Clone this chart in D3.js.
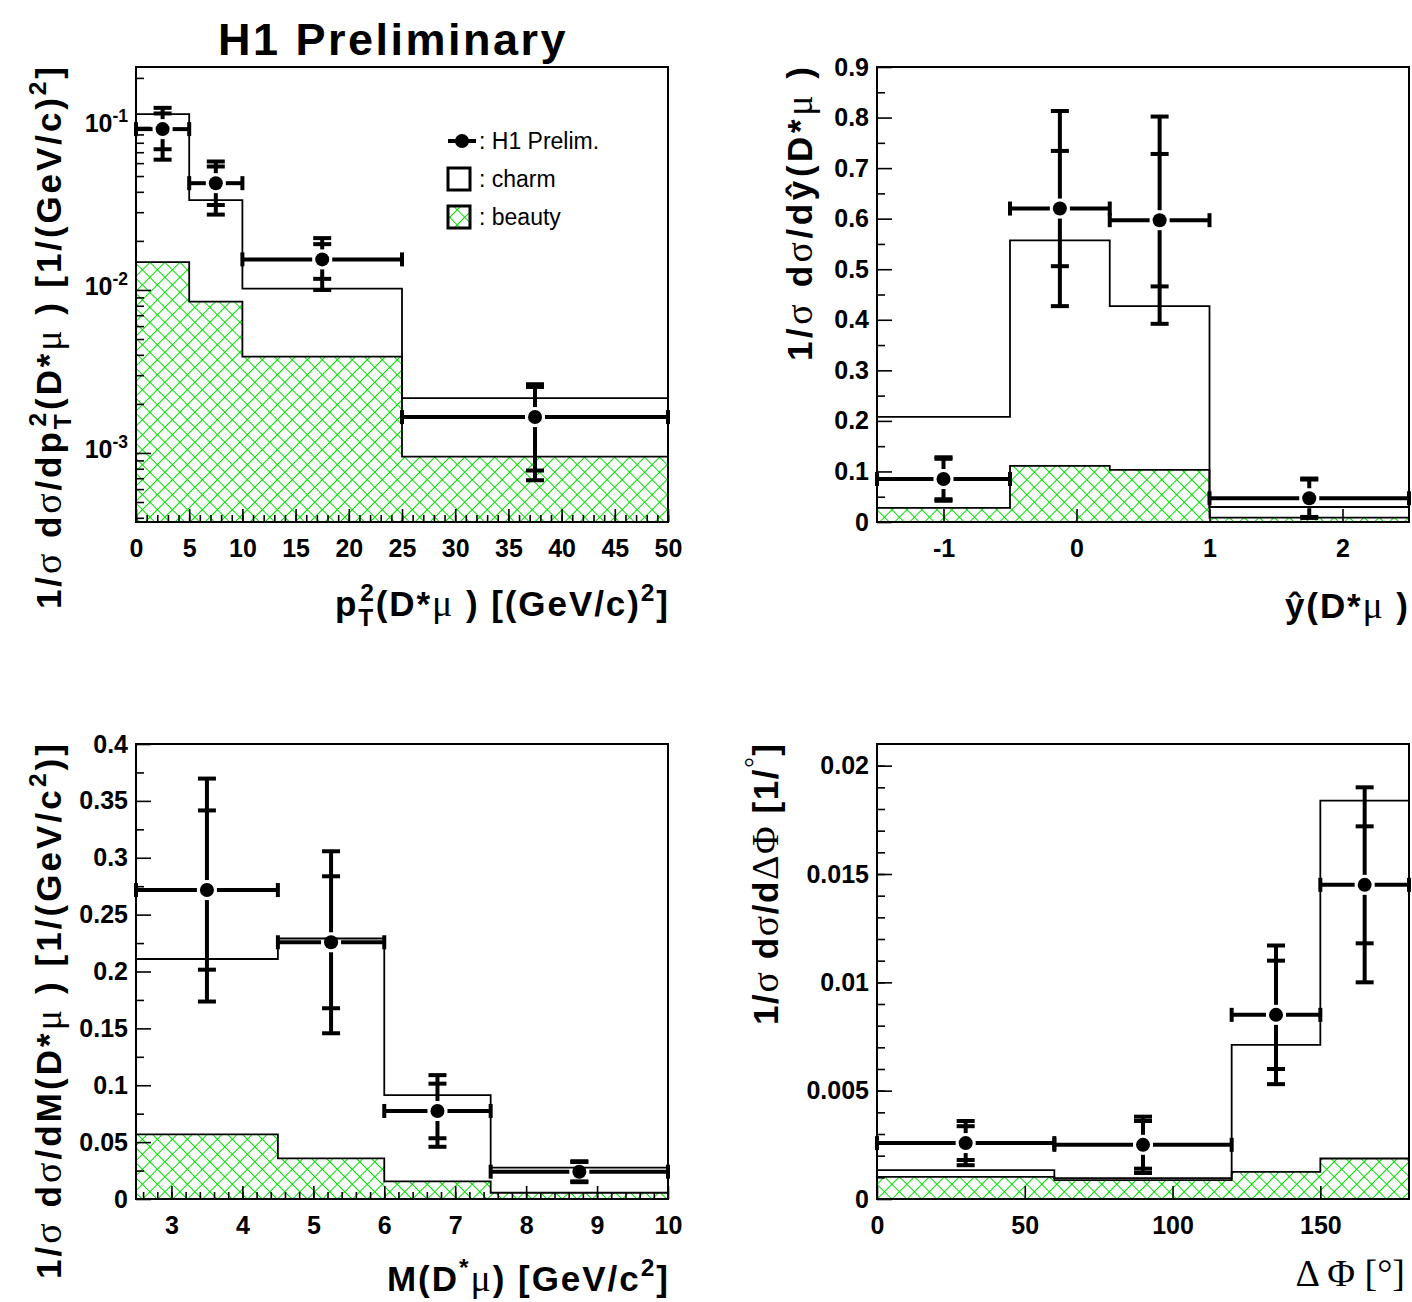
<!DOCTYPE html>
<html>
<head>
<meta charset="utf-8">
<script src="https://cdn.jsdelivr.net/npm/d3@7"></script>
<style>
body { margin: 0; background: #fff; }
</style>
</head>
<body>
<svg id="canvas" width="1412" height="1302"></svg>
<script>
// p_T^2(D*mu) panel
var ptEdges = [0, 5, 10, 25, 50];
var ptVal = [0.097, 0.0452, 0.0154, 0.00166];
var ptStat = [0.024, 0.012, 0.0037, 0.00088];
var ptTot = [0.034, 0.0162, 0.0054, 0.00098];
var ptCharm = [0.12, 0.0356, 0.0102, 0.00217];
var ptBeauty = [0.0148, 0.00848, 0.0039, 0.00095];
var ptTicks = [0, 5, 10, 15, 20, 25, 30, 35, 40, 45, 50];
var ptTickLabels = ['0', '5', '10', '15', '20', '25', '30', '35', '40', '45', '50'];
var ptYTicks = [0.1, 0.01, 0.001];
var ptYTickExp = ['-1', '-2', '-3'];

// y-hat(D*mu) panel
var yEdges = [-1.5, -0.5, 0.25, 1, 2.5];
var yVal = [0.085, 0.62, 0.597, 0.047];
var yStat = [0.040, 0.114, 0.131, 0.037];
var yTot = [0.043, 0.193, 0.205, 0.039];
var yCharm = [0.208, 0.557, 0.427, 0.0297];
var yBeauty = [0.028, 0.111, 0.103, 0.0085];
var yTicks = [-1, 0, 1, 2];
var yTickLabels = ['-1', '0', '1', '2'];
var yYTicks = [0, 0.1, 0.2, 0.3, 0.4, 0.5, 0.6, 0.7, 0.8, 0.9];
var yYTickLabels = ['0', '0.1', '0.2', '0.3', '0.4', '0.5', '0.6', '0.7', '0.8', '0.9'];

// M(D*mu) panel
var mEdges = [2.5, 4.5, 6, 7.5, 10];
var mVal = [0.2716, 0.2257, 0.0774, 0.024];
var mStat = [0.070, 0.058, 0.024, 0.0085];
var mTot = [0.098, 0.080, 0.0315, 0.0092];
var mCharm = [0.211, 0.229, 0.0914, 0.0275];
var mBeauty = [0.0569, 0.0358, 0.0155, 0.0055];
var mTicks = [3, 4, 5, 6, 7, 8, 9, 10];
var mTickLabels = ['3', '4', '5', '6', '7', '8', '9', '10'];
var mYTicks = [0, 0.05, 0.1, 0.15, 0.2, 0.25, 0.3, 0.35, 0.4];
var mYTickLabels = ['0', '0.05', '0.1', '0.15', '0.2', '0.25', '0.3', '0.35', '0.4'];

// Delta Phi panel
var phiEdges = [0, 60, 120, 150, 180];
var phiVal = [0.00258, 0.0025, 0.0085, 0.0145];
var phiStat = [0.00078, 0.0011, 0.0025, 0.0027];
var phiTot = [0.00102, 0.0013, 0.0032, 0.0045];
var phiCharm = [0.00133, 0.00096, 0.00711, 0.01839];
var phiBeauty = [0.00102, 0.00087, 0.00125, 0.00187];
var phiTicks = [0, 50, 100, 150];
var phiTickLabels = ['0', '50', '100', '150'];
var phiYTicks = [0, 0.005, 0.01, 0.015, 0.02];
var phiYTickLabels = ['0', '0.005', '0.01', '0.015', '0.02'];

var SANS = '"Liberation Sans", Arial, sans-serif';
var SERIF = '"Liberation Serif", "DejaVu Serif", serif';
var svg = d3.select('#canvas')
	.attr('font-family', SANS)
	.attr('font-weight', 'bold');

var pat = svg.append('defs').append('pattern')
	.attr('id', 'hatch')
	.attr('patternUnits', 'userSpaceOnUse')
	.attr('width', 10.6).attr('height', 10.6)
	.attr('patternTransform', 'rotate(45)');
pat.append('path')
	.attr('d', 'M0,5.3H10.6M5.3,0V10.6')
	.attr('stroke', '#00dd00')
	.attr('stroke-width', 1);

// text with sub/superscripts and symbol-font greek letters
function rich(text, parts, base) {
	var shift = 0;
	parts.forEach(function (p) {
		var s = typeof p === 'string' ? { t: p } : p;
		var ts = text.append('tspan').text(s.t);
		var want = s.up ? -base * 0.42 : (s.down ? base * 0.28 : 0);
		if (want !== shift) { ts.attr('dy', want - shift); shift = want; }
		var size = base;
		if (s.up || s.down) size = base * 0.7;
		if (s.g) {
			size *= 1.08;
			ts.attr('font-family', SERIF).attr('font-weight', 'normal');
		}
		if (size !== base) ts.attr('font-size', size);
		if (s.dx) ts.attr('dx', s.dx);
	});
}

function stepPath(edges, vals, x, y, base) {
	var d = 'M' + x(edges[0]) + ',' + base;
	vals.forEach(function (v, i) {
		d += 'V' + y(v) + 'H' + x(edges[i + 1]);
	});
	return d + 'V' + base;
}

function panel(o) {
	var b = o.box; // left, right, top, bottom
	var g = svg.append('g');
	var x = d3.scaleLinear().domain(o.xDomain).range([b[0], b[1]]);
	var y = (o.log ? d3.scaleLog() : d3.scaleLinear()).domain(o.yDomain).range([b[3], b[2]]);

	g.append('path')
		.attr('d', stepPath(o.edges, o.beauty, x, y, b[3]))
		.attr('fill', 'url(#hatch)')
		.attr('stroke', '#000')
		.attr('stroke-width', 1.8);
	g.append('path')
		.attr('d', stepPath(o.edges, o.charm, x, y, b[3]))
		.attr('fill', 'none')
		.attr('stroke', '#000')
		.attr('stroke-width', 1.8);

	// data points with stat and total errors
	var pts = g.append('g').attr('stroke', '#000').attr('stroke-width', 4);
	var gap = 10;
	o.vals.forEach(function (v, i) {
		var xl = x(o.edges[i]), xr = x(o.edges[i + 1]);
		var cx = x((o.edges[i] + o.edges[i + 1]) / 2), cy = y(v);
		var segs = [
			[xl, cy, cx - gap, cy], [cx + gap, cy, xr, cy],
			[xl, cy - 7, xl, cy + 7], [xr, cy - 7, xr, cy + 7]
		];
		var yt = y(v + o.tot[i]), yb = y(v - o.tot[i]);
		var st = y(v + o.stat[i]), sb = y(v - o.stat[i]);
		if (yt < cy - gap) segs.push([cx, cy - gap, cx, yt]);
		if (yb > cy + gap) segs.push([cx, cy + gap, cx, yb]);
		[yt, yb, st, sb].forEach(function (yy) {
			segs.push([cx - 9, yy, cx + 9, yy]);
		});
		segs.forEach(function (s) {
			pts.append('line').attr('x1', s[0]).attr('y1', s[1]).attr('x2', s[2]).attr('y2', s[3]);
		});
		g.append('circle').attr('cx', cx).attr('cy', cy).attr('r', 7).attr('fill', '#000');
	});

	// axes, ticks drawn inside the frame
	var xa = g.append('g')
		.attr('transform', 'translate(0,' + b[3] + ')')
		.call(d3.axisBottom(x).tickValues(o.xTicks).tickSize(-13).tickPadding(17)
			.tickFormat(function (d, i) { return o.xLabels[i]; }));
	if (o.xMinor) {
		xa.append('g').call(d3.axisBottom(x).tickValues(o.xMinor).tickSize(-7).tickFormat(''));
	}
	var ya = g.append('g')
		.attr('transform', 'translate(' + b[0] + ',0)')
		.call(d3.axisLeft(y).tickValues(o.yTicks).tickSize(-15).tickPadding(8)
			.tickFormat(function (d, i) { return o.log ? '' : o.yLabels[i]; }));
	ya.append('g').call(d3.axisLeft(y).tickValues(o.yMinor).tickSize(-8).tickFormat(''));
	[xa, ya].forEach(function (a) {
		a.attr('font-size', 25).attr('font-family', null);
		a.selectAll('.domain').remove();
		a.selectAll('line').attr('stroke-width', 1.6);
	});
	if (o.log) {
		ya.selectAll(':scope > .tick > text').each(function (d, i) {
			rich(d3.select(this).attr('dy', '0.2em'), ['10', { t: o.yLabels[i], up: true }], 25);
		});
	}

	g.append('rect')
		.attr('x', b[0]).attr('y', b[2])
		.attr('width', b[1] - b[0]).attr('height', b[3] - b[2])
		.attr('fill', 'none').attr('stroke', '#000').attr('stroke-width', 2);

	var yt = g.append('text')
		.attr('transform', 'translate(' + o.yTitleX + ',' + b[2] + ') rotate(-90)')
		.attr('text-anchor', 'end')
		.attr('font-size', 35)
		.attr('textLength', o.yTitleLen)
		.attr('lengthAdjust', 'spacing');
	rich(yt, o.yTitle, 35);
	if (o.xTitle) {
		var xt = g.append('text')
			.attr('x', o.xTitleEnd).attr('y', o.xTitleY)
			.attr('text-anchor', 'end')
			.attr('font-size', 35)
			.attr('textLength', o.xTitleLen)
			.attr('lengthAdjust', 'spacing');
		rich(xt, o.xTitle, 35);
	}
	return { x: x, y: y };
}

var sig = { t: '\u03c3', g: true }, mu = { t: '\u03bc', g: true };

var logMinor = [];
[-4, -3, -2, -1].forEach(function (e) {
	for (var k = 2; k <= 9; k++) logMinor.push(k * Math.pow(10, e));
});

panel({
	box: [136, 668, 67, 522], log: true,
	xDomain: [0, 50], yDomain: [3.77e-4, 0.2333],
	edges: ptEdges, vals: ptVal, stat: ptStat, tot: ptTot, charm: ptCharm, beauty: ptBeauty,
	xTicks: ptTicks, xLabels: ptTickLabels, xMinor: d3.range(0, 51, 1),
	yTicks: ptYTicks, yLabels: ptYTickExp,
	yMinor: logMinor.filter(function (v) { return v > 3.77e-4 && v < 0.2333; }),
	yTitleX: 61, yTitleLen: 542,
	yTitle: ['1/', sig, ' d', sig, '/dp', { t: 'T', down: true }, { t: '2', up: true, dx: -15 },
		'(D*', mu, ' ) [1/(GeV/c)', { t: '2', up: true }, ']'],
	xTitleEnd: 668, xTitleY: 616, xTitleLen: 333,
	xTitle: ['p', { t: 'T', down: true }, { t: '2', up: true, dx: -15 },
		'(D*', mu, ' ) [(GeV/c)', { t: '2', up: true }, ']']
});

panel({
	box: [877, 1409, 67, 522],
	xDomain: [-1.5, 2.5], yDomain: [0, 0.9],
	edges: yEdges, vals: yVal, stat: yStat, tot: yTot, charm: yCharm, beauty: yBeauty,
	xTicks: yTicks, xLabels: yTickLabels,
	yTicks: yYTicks, yLabels: yYTickLabels, yMinor: d3.range(0.05, 0.9, 0.1),
	yTitleX: 812, yTitleLen: 294,
	yTitle: ['1/', sig, ' d', sig, '/d\u0177(D*', mu, ' )'],
	xTitleEnd: 1408, xTitleY: 618, xTitleLen: 123,
	xTitle: ['\u0177(D*', mu, ' )']
});

panel({
	box: [136, 668, 744, 1199],
	xDomain: [2.5, 10], yDomain: [0, 0.4],
	edges: mEdges, vals: mVal, stat: mStat, tot: mTot, charm: mCharm, beauty: mBeauty,
	xTicks: mTicks, xLabels: mTickLabels, xMinor: d3.range(2.6, 10, 0.2),
	yTicks: mYTicks, yLabels: mYTickLabels, yMinor: d3.range(0.025, 0.4, 0.05),
	yTitleX: 61, yTitleLen: 535,
	yTitle: ['1/', sig, ' d', sig, '/dM(D*', mu, ' ) [1/(GeV/c', { t: '2', up: true }, ')]'],
	xTitleEnd: 668, xTitleY: 1291, xTitleLen: 281,
	xTitle: ['M(D', { t: '*', up: true }, mu, ') [GeV/c', { t: '2', up: true }, ']']
});

panel({
	box: [877, 1409, 744, 1199],
	xDomain: [0, 180], yDomain: [0, 0.021],
	edges: phiEdges, vals: phiVal, stat: phiStat, tot: phiTot, charm: phiCharm, beauty: phiBeauty,
	xTicks: phiTicks, xLabels: phiTickLabels,
	yTicks: phiYTicks, yLabels: phiYTickLabels, yMinor: d3.range(0.001, 0.021, 0.001),
	yTitleX: 778, yTitleLen: 281,
	yTitle: ['1/', sig, ' d', sig, '/d', { t: '\u0394\u03a6', g: true }, ' [1/', { t: '\u00b0', up: true, g: true }, ']'],
	xTitle: null
});
svg.append('text')
	.attr('x', 1405).attr('y', 1286)
	.attr('text-anchor', 'end')
	.attr('font-family', SERIF).attr('font-weight', 'normal')
	.attr('font-size', 38)
	.text('\u0394 \u03a6 [\u00b0]');

// title
svg.append('text')
	.attr('x', 393).attr('y', 55)
	.attr('text-anchor', 'middle')
	.attr('font-size', 45)
	.attr('letter-spacing', 2.5)
	.text('H1 Preliminary');

// legend
var lg = svg.append('g').attr('font-size', 23).attr('font-weight', 'normal');
var lx = 448;
lg.append('line').attr('x1', lx).attr('x2', lx + 28).attr('y1', 141).attr('y2', 141)
	.attr('stroke', '#000').attr('stroke-width', 4);
lg.append('circle').attr('cx', lx + 14).attr('cy', 141).attr('r', 7).attr('fill', '#000');
lg.append('rect').attr('x', lx).attr('y', 168).attr('width', 22).attr('height', 22)
	.attr('fill', 'none').attr('stroke', '#000').attr('stroke-width', 3);
lg.append('rect').attr('x', lx).attr('y', 206).attr('width', 22).attr('height', 22)
	.attr('fill', 'url(#hatch)').attr('stroke', '#000').attr('stroke-width', 3);
[[': H1 Prelim.', 149], [': charm', 187], [': beauty', 225]].forEach(function (t) {
	lg.append('text').attr('x', lx + 31).attr('y', t[1]).text(t[0]);
});
</script>
</body>
</html>
